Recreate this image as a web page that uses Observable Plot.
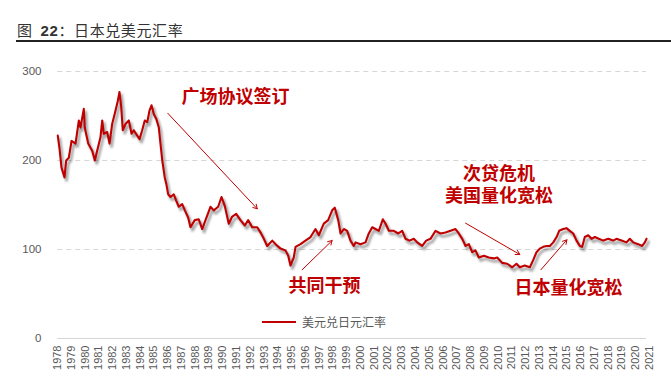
<!DOCTYPE html>
<html><head><meta charset="utf-8">
<script src="https://cdn.jsdelivr.net/npm/d3@7"></script>
<script src="https://cdn.jsdelivr.net/npm/@observablehq/plot@0.6"></script>
<style>
body{margin:0;background:#fff;font-family:"Liberation Sans",Arial,"Noto Sans CJK SC",sans-serif;}
#wrap{position:relative;width:671px;height:386px;overflow:hidden;background:#fff}
#title{position:absolute;left:17px;top:21px;font-size:15px;line-height:17px;color:#333;font-family:"Noto Sans CJK SC",sans-serif;white-space:nowrap;letter-spacing:0.6px}
#title b{font-family:"Liberation Sans",Arial,sans-serif;font-weight:bold;margin-left:4px}
#rule{position:absolute;left:16px;right:0;top:40px;height:1.5px;background:#222}
#chart{position:absolute;left:0;top:45px}
#legend{position:absolute;left:262px;top:313px;display:flex;align-items:center;font-size:12px;color:#595959;font-family:"Noto Sans CJK SC",sans-serif}
#legend i{display:inline-block;width:34px;height:2px;background:#c00000;margin-right:6px}
</style></head>
<body>
<div id="wrap">
  <div id="title">图 <b>22</b>：日本兑美元汇率</div>
  <div id="rule"></div>
  <div id="chart"></div>
  <div id="legend"><i></i><span>美元兑日元汇率</span></div>
</div>
<script>
// USD/JPY readings (fractional year, rate)
const years = [1978.02,1978.15,1978.29,1978.51,1978.63,1978.82,1979.02,1979.31,1979.55,1979.67,1979.91,1979.98,
1980.23,1980.52,1980.71,1980.88,1981.12,1981.25,1981.36,1981.61,1981.78,1981.97,1982.21,1982.38,1982.50,1982.63,
1982.74,1982.94,1983.18,1983.38,1983.54,1983.79,1983.96,1984.15,1984.34,1984.52,1984.68,1984.83,1985.00,1985.17,
1985.36,1985.48,1985.61,1985.79,1985.90,1986.04,1986.21,1986.45,1986.62,1986.81,1987.06,1987.25,1987.49,1987.66,
1987.97,1988.26,1988.51,1988.75,1989.11,1989.35,1989.67,1989.91,1990.15,1990.44,1990.69,1990.98,1991.29,1991.61,
1991.85,1992.14,1992.51,1992.75,1992.99,1993.23,1993.60,1993.84,1994.20,1994.56,1994.76,1994.92,1995.16,1995.29,
1995.65,1996.01,1996.38,1996.74,1996.98,1997.34,1997.66,1997.95,1998.14,1998.39,1998.56,1998.80,1999.04,1999.28,
1999.52,1999.65,2000.01,2000.37,2000.61,2000.86,2001.10,2001.34,2001.63,2001.83,2002.07,2002.43,2002.75,2003.04,
2003.28,2003.57,2003.88,2004.13,2004.49,2004.78,2005.09,2005.46,2005.82,2006.18,2006.55,2006.91,2007.15,2007.40,
2007.64,2007.88,2008.12,2008.36,2008.60,2008.97,2009.33,2009.69,2009.94,2010.30,2010.67,2011.03,2011.34,2011.58,
2011.94,2012.31,2012.55,2012.79,2013.03,2013.28,2013.52,2013.76,2014.01,2014.25,2014.44,2014.73,2014.97,2015.21,
2015.46,2015.70,2015.94,2016.11,2016.30,2016.55,2016.79,2017.03,2017.32,2017.64,2018.00,2018.36,2018.60,2018.97,
2019.33,2019.57,2019.82,2020.18,2020.47,2020.66,2020.78];
const rates = [228,213,192,181,200,203,222,219,245,237,258,237,
219,211,200,211,226,245,230,232,219,241,256,267,277,260,
234,241,245,230,234,228,224,234,245,243,256,262,252,247,
237,219,200,181,174,162,159,162,155,148,151,144,136,125,
133,134,123,133,148,144,148,159,149,129,137,140,133,127,
133,125,125,119,112,104,110,106,101,99,93,82,91,103,
106,110,114,123,116,129,133,144,147,133,118,123,121,110,
104,108,106,108,118,125,123,121,134,129,121,121,118,121,
112,110,112,108,104,110,112,121,118,119,121,123,118,112,
104,106,97,99,91,93,91,90,91,85,84,80,84,80,
82,80,88,97,101,103,104,104,108,114,121,123,124,121,
118,110,104,103,114,116,112,114,112,110,112,110,112,110,
108,112,108,106,104,108,112];

const tickYears = d3.range(1978, 2022);
const yTicks = [0, 100, 200, 300];
const gridValues = [100, 200, 300];

// annotations
const noteLabels = ["广场协议签订", "共同干预", "次贷危机\n美国量化宽松", "日本量化宽松"];
const noteX = [1990.93, 1997.39, 2010.06, 2015.12];
const noteY = [272, 59.6, 173.6, 57.3];
const arrowX1 = [1986.01, 1995.77, 2007.64, 2013.11];
const arrowY1 = [253.1, 77.2, 129.6, 77.2];
const arrowX2 = [1992.51, 1997.95, 2011.58, 2015.0];
const arrowY2 = [145.7, 110.1, 94.4, 110.9];

const series = years.map((t, i) => ({t, v: rates[i]}));
const notes = noteLabels.map((s, i) => ({s, x: noteX[i], y: noteY[i]}));
const arrows = arrowX1.map((x1, i) => ({x1, y1: arrowY1[i], x2: arrowX2[i], y2: arrowY2[i]}));
const xStart = years[0], xEnd = years[years.length - 1];

const red = "#c00000";
const plot = Plot.plot({
  width: 671,
  height: 341,
  marginLeft: 57,
  marginRight: 22,
  marginTop: 26,
  marginBottom: 48,
  style: {color: "#595959", fontFamily: "'Liberation Sans', Arial, sans-serif", background: "transparent"},
  x: {domain: [1978, 2021]},
  y: {domain: [0, 300]},
  marks: [
    Plot.ruleY(gridValues, {x1: () => xStart, x2: () => xEnd, stroke: "#d6d6d6", strokeDasharray: "5,4"}),
    Plot.ruleY([0], {x1: () => xStart, x2: () => xEnd, stroke: "#d6d6d6", strokeWidth: 1.2}),
    Plot.line(series, {x: "t", y: "v", stroke: "#000", strokeOpacity: 0.35, strokeWidth: 2.8, dx: 2, dy: 3}),
    Plot.line(series, {x: "t", y: "v", stroke: red, strokeWidth: 2.1}),
    Plot.arrow(arrows, {x1: "x1", y1: "y1", x2: "x2", y2: "y2", stroke: red, strokeWidth: 1, headLength: 7, bend: 0}),
    Plot.text(notes, {x: "x", y: "y", text: "s", fill: red, fontSize: 18, lineHeight: 1.2, fontWeight: "bold", fontFamily: "'Liberation Sans', 'Noto Sans CJK SC', sans-serif"}),
    Plot.axisY({ticks: yTicks, tickSize: 0, tickPadding: 16, fontSize: 11.5, label: null}),
    Plot.axisX({ticks: tickYears, tickFormat: d => String(d), tickRotate: -90, tickSize: 0, tickPadding: 7, fontSize: 11, label: null})
  ]
});

// soft shadow for the first line
const ns = "http://www.w3.org/2000/svg";
const defs = document.createElementNS(ns, "defs");
const filter = document.createElementNS(ns, "filter");
filter.setAttribute("id", "shadow");
filter.setAttribute("x", "-10%"); filter.setAttribute("y", "-10%");
filter.setAttribute("width", "120%"); filter.setAttribute("height", "120%");
const blur = document.createElementNS(ns, "feGaussianBlur");
blur.setAttribute("stdDeviation", "1.3");
filter.appendChild(blur);
defs.appendChild(filter);
plot.prepend(defs);
const lineGroups = plot.querySelectorAll('g[aria-label="line"]');
if (lineGroups.length) lineGroups[0].setAttribute("filter", "url(#shadow)");

document.getElementById("chart").appendChild(plot);
</script>
</body></html>
